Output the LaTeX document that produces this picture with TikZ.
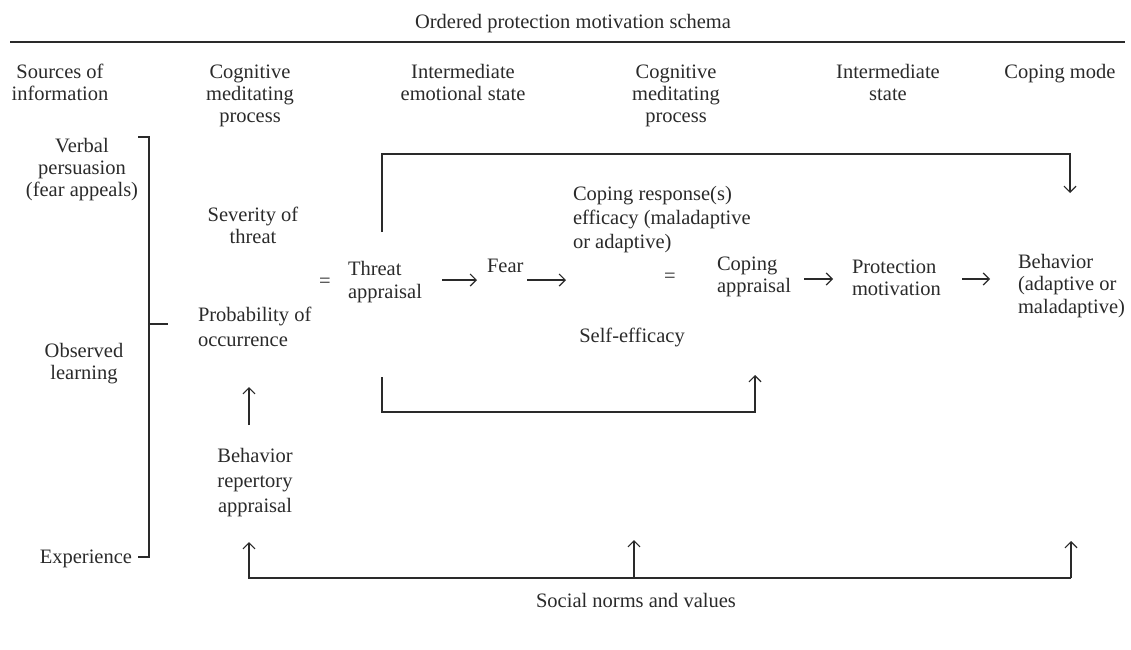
\documentclass[tikz,border=0pt]{standalone}
\usepackage{fontspec}
\setmainfont{Liberation Serif}
\usetikzlibrary{arrows.meta}
\definecolor{ink}{HTML}{2A2A2A}
\begin{document}
\begin{tikzpicture}[x=1pt,y=-1pt,
  txt/.style={inner sep=0pt, outer sep=0pt, text=ink, anchor=base, font=\fontsize{20.5}{22}\selectfont},
  ctr/.style={txt, align=center},
  lft/.style={txt, align=left, anchor=base west},
  ln/.style={draw=ink, line width=1.2pt},
  arr/.style={ln, -{Straight Barb[length=6pt,width=12pt]}}
]
\useasboundingbox (0,0) rectangle (1131,649);
% title and rule
\node[ctr] (title) at (573,28) {Ordered protection motivation schema};
\coordinate (ruleL) at (10,42);
\coordinate (ruleR) at (1125,42);
\draw[ln, line width=1.3pt] (ruleL) -- (ruleR);
% headers
\node[ctr] (h1) at (60,100) {Sources of\\information};
\node[ctr] (h2) at (250,122) {Cognitive\\meditating\\process};
\node[ctr] (h3) at (463,100) {Intermediate\\emotional state};
\node[ctr] (h4) at (676,122) {Cognitive\\meditating\\process};
\node[ctr] (h5) at (888,100) {Intermediate\\state};
\node[ctr] (h6) at (1060,78) {Coping mode};
% sources
\node[ctr] (verbal) at (82,196) {Verbal\\persuasion\\(fear appeals)};
\node[ctr] (observed) at (84,379) {Observed\\learning};
\node[txt, anchor=base east] (experience) at (132,563) {Experience};
% bracket
\coordinate (bt0) at (138,137);
\coordinate (bt1) at (149,137);
\coordinate (bb1) at (149,557);
\coordinate (bb0) at (138,557);
\coordinate (bm0) at (149,324);
\coordinate (bm1) at (168,324);
\draw[ln] (bt0) -- (bt1) -- (bb1) -- (bb0);
\draw[ln] (bm0) -- (bm1);
% threat side
\node[ctr] (severity) at (253,243) {Severity of\\threat};
\node[lft, font=\fontsize{20.5}{25}\selectfont] (prob) at (198,346) {Probability of\\occurrence};
\node[txt, anchor=center] (eq1) at (325,283) {=};
\node[lft, font=\fontsize{20.5}{23}\selectfont] (threat) at (348,298) {Threat\\appraisal};
\node[lft] (fear) at (487,272) {Fear};
\node[lft, font=\fontsize{20.5}{24}\selectfont] (cresp) at (573,248) {Coping response(s)\\efficacy (maladaptive\\or adaptive)};
\node[txt, anchor=center] (eq2) at (670,278) {=};
\node[lft] (capp) at (717,292) {Coping\\appraisal};
\node[lft] (prot) at (852,295) {Protection\\motivation};
\node[lft, font=\fontsize{20.5}{22.5}\selectfont] (beh) at (1018,313) {Behavior\\(adaptive or\\maladaptive)};
\node[ctr] (selfeff) at (632,342) {Self-efficacy};
\node[ctr, font=\fontsize{20.5}{25}\selectfont] (brep) at (255,512) {Behavior\\repertory\\appraisal};
\node[ctr] (social) at (636,607) {Social norms and values};
% horizontal arrows
\coordinate (a1s) at (442,280); \coordinate (a1e) at (477,280);
\coordinate (a2s) at (527,280); \coordinate (a2e) at (566,280);
\coordinate (a3s) at (804,279); \coordinate (a3e) at (833,279);
\coordinate (a4s) at (962,279); \coordinate (a4e) at (990,279);
\draw[arr] (a1s) -- (a1e);
\draw[arr] (a2s) -- (a2e);
\draw[arr] (a3s) -- (a3e);
\draw[arr] (a4s) -- (a4e);
% top loop
\coordinate (tl0) at (382,232);
\coordinate (tl1) at (382,154);
\coordinate (tl2) at (1070,154);
\coordinate (tl3) at (1070,193);
\draw[arr] (tl0) -- (tl1) -- (tl2) -- (tl3);
% lower loop
\coordinate (ll0) at (382,377);
\coordinate (ll1) at (382,412);
\coordinate (ll2) at (755,412);
\coordinate (ll3) at (755,375);
\draw[arr] (ll0) -- (ll1) -- (ll2) -- (ll3);
% repertory arrow
\coordinate (r0) at (249,425);
\coordinate (r1) at (249,387);
\draw[arr] (r0) -- (r1);
% bottom norms
\coordinate (n0) at (249,578);
\coordinate (n0t) at (249,542);
\coordinate (n1) at (634,578);
\coordinate (n1t) at (634,540);
\coordinate (n2) at (1071,578);
\coordinate (n2t) at (1071,541);
\draw[arr] (n2) -- (n0) -- (n0t);
\draw[arr] (n1) -- (n1t);
\draw[arr] (n2) -- (n2t);
\end{tikzpicture}
\end{document}
